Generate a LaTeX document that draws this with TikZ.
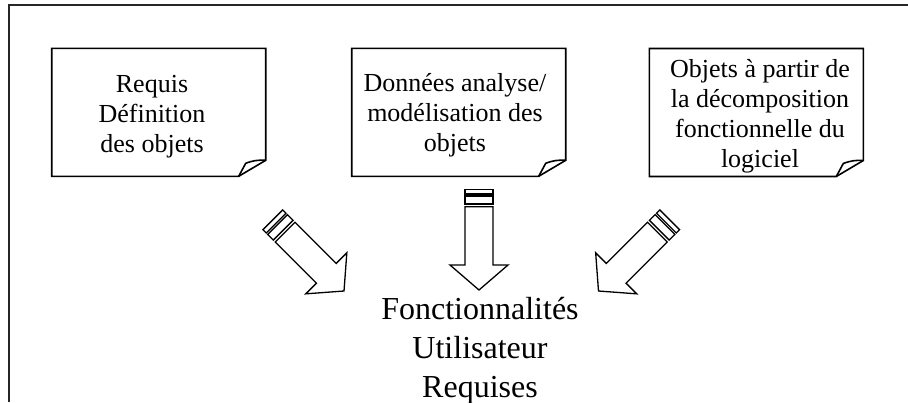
\documentclass[tikz,border=0pt]{standalone}
\usepackage{fontspec}
\setmainfont{Liberation Serif}
\begin{document}
\begin{tikzpicture}[x=1pt,y=-1pt,
  frameline/.style={line width=2pt,draw=black!85},
  boxline/.style={line width=1.6pt,draw=black,line join=miter},
  arrowline/.style={line width=1.3pt,draw=black,line join=miter},
  boxtext/.style={align=center,inner sep=0pt,font=\fontsize{26}{30}\selectfont},
  maintext/.style={align=center,inner sep=0pt,font=\fontsize{32}{39}\selectfont},
  notebox/.pic={
    % sheet with a curled lower-right corner
    \draw[boxline] (0,0) -- (214,0) -- (214,112) -- (187,128) -- (0,128) -- cycle;
    \draw[boxline] (187,128) -- (194,115) to[bend left=12] (214,112);
  },
  stripearrow/.pic={
    % striped block arrow, tail at the origin, pointing along +y
    \draw[arrowline] (-14,0) rectangle (14,4.7);
    \draw[arrowline] (-14,6.7) rectangle (14,14.7);
    \draw[arrowline] (-14,17.4) -- (-14,75.7) -- (-29,75.7) -- (0,100.7)
      -- (29,75.7) -- (14,75.7) -- (14,17.4) -- cycle;
  }
]
\useasboundingbox (0,0) rectangle (908,402);

% outer frame (left and top sides)
\coordinate (fbl) at (9,402);
\coordinate (ftl) at (9,5);
\coordinate (ftr) at (908,5);
\draw[frameline] (fbl) -- (ftl) -- (ftr);

% source sheets
\pic at (51.7,48.3) {notebox};
\pic at (351.7,48.3) {notebox};
\pic at (649.3,48.5) {notebox};

\node[boxtext] (req) at (152,116.5) {Requis\\Définition\\des objets};
\node[boxtext] (don) at (455,115) {Données analyse/\\modélisation des\\objets};
\node[boxtext] (obj) at (760,116.3) {Objets à partir de\\la décomposition\\fonctionnelle du\\logiciel};

% arrows converging on the result
\pic[rotate=45] at (272.8,219.8) {stripearrow};
\pic at (479,189.3) {stripearrow};
\pic[rotate=-45] at (669.7,219.8) {stripearrow};

\node[maintext] (fon) at (480,350.5) {Fonctionnalités\\Utilisateur\\Requises};
\end{tikzpicture}
\end{document}
